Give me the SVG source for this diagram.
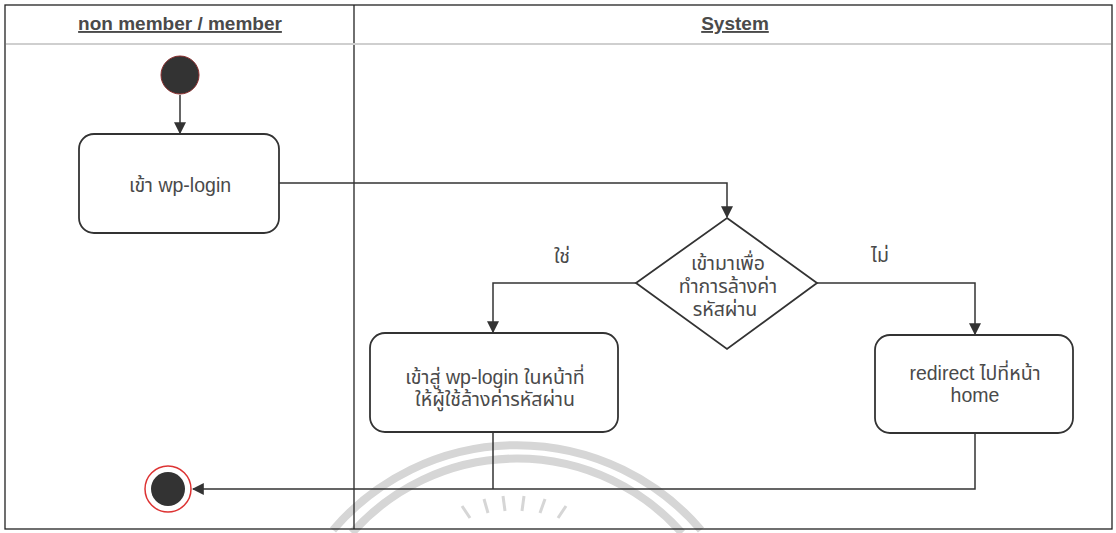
<svg xmlns="http://www.w3.org/2000/svg" width="1116" height="533" viewBox="0 0 1116 533">
<style>
.frame{fill:none;stroke:#222;stroke-width:1.3}
.hdr{stroke:#cfcfcf;stroke-width:2}
.title{font-family:"Liberation Sans","Noto Sans",sans-serif;font-size:19px;font-weight:bold;fill:#4a4a4a;text-decoration:underline;text-anchor:middle}
.act{fill:#fff;stroke:#333;stroke-width:1.8}
.txt{font-family:"Liberation Sans","Noto Sans","Noto Sans Thai","DejaVu Sans",sans-serif;font-size:19.5px;fill:#4a4a4a;text-anchor:middle}
.edge{fill:none;stroke:#333;stroke-width:1.5}
.wm{fill:none;stroke:#d6d6d6;stroke-width:8}
</style>
<defs>
<marker id="arr" viewBox="0 0 10 10" refX="9" refY="5" markerWidth="12" markerHeight="12" markerUnits="userSpaceOnUse" orient="auto">
<path d="M0,0 L10,5 L0,10 z" fill="#333"/>
</marker>
</defs>
<rect width="1116" height="533" fill="#fff"/>
<g id="watermark">
<path class="wm" d="M333,530 A242,242 0 0 1 701,530"/>
<path class="wm" d="M352,533 A220,220 0 0 1 682,533"/>
<g stroke="#d6d6d6" stroke-width="3">
<line x1="470" y1="518" x2="462" y2="506"/>
<line x1="488" y1="513" x2="484" y2="499"/>
<line x1="505" y1="511" x2="503" y2="496"/>
<line x1="522" y1="511" x2="524" y2="496"/>
<line x1="540" y1="513" x2="545" y2="499"/>
<line x1="558" y1="518" x2="566" y2="506"/>
</g>
</g>
<g id="lanes">
<rect class="frame" x="5" y="5" width="1107" height="524"/>
<line x1="354" y1="5" x2="354" y2="529" stroke="#222" stroke-width="1.3"/>
<line class="hdr" x1="6" y1="44" x2="1111" y2="44"/>
<text class="title" x="180" y="30">non member / member</text>
<text class="title" x="735" y="30">System</text>
</g>
<g id="connectors">
<path class="edge" d="M180,95 L180,133" marker-end="url(#arr)"/>
<path class="edge" d="M279,183 L727,183 L727,217" marker-end="url(#arr)"/>
<path class="edge" d="M636,283 L493,283 L493,332" marker-end="url(#arr)"/>
<path class="edge" d="M817,283 L975,283 L975,334" marker-end="url(#arr)"/>
<path class="edge" d="M493,432 L493,489"/>
<path class="edge" d="M975,433 L975,489 L193,489" marker-end="url(#arr)"/>
<text class="txt" x="562" y="263">ใช่</text>
<text class="txt" x="880" y="262">ไม่</text>
</g>
<g id="start">
<circle cx="180" cy="75" r="19" fill="#333" stroke="#8a2a2a" stroke-width="1"/>
</g>
<g id="enter-login">
<rect class="act" x="79" y="134" width="200" height="99" rx="15"/>
<text class="txt" x="180" y="192">เข้า wp-login</text>
</g>
<g id="decision">
<polygon class="act" points="727,218 817,283 727,349 636,283"/>
<text class="txt" x="728" y="270">เข้ามาเพื่อ</text>
<text class="txt" x="728" y="293">ทำการล้างค่า</text>
<text class="txt" x="725" y="316">รหัสผ่าน</text>
</g>
<g id="reset-page">
<rect class="act" x="370" y="333" width="248" height="99" rx="15"/>
<text class="txt" x="495" y="384">เข้าสู่ wp-login ในหน้าที่</text>
<text class="txt" x="495" y="406">ให้ผู้ใช้ล้างค่ารหัสผ่าน</text>
</g>
<g id="redirect-home">
<rect class="act" x="875" y="335" width="198" height="98" rx="15"/>
<text class="txt" x="975" y="380">redirect ไปที่หน้า</text>
<text class="txt" x="975" y="402">home</text>
</g>
<g id="end">
<circle cx="168" cy="489" r="23" fill="#fff" stroke="#d33" stroke-width="1.5"/>
<circle cx="168" cy="489" r="17" fill="#333"/>
</g>
</svg>
